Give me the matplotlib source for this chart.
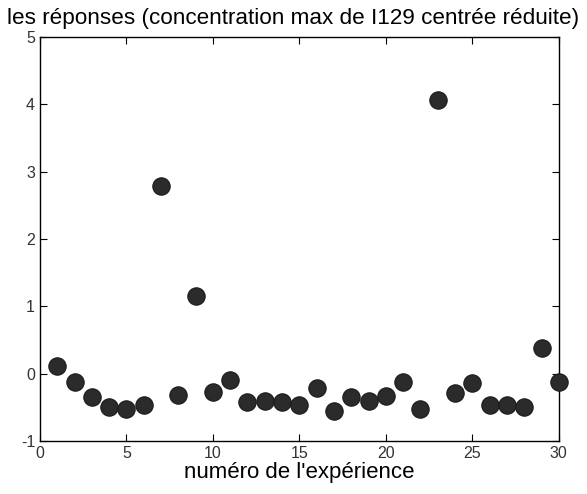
import matplotlib
matplotlib.use("Agg")
import matplotlib.pyplot as plt

experiences = list(range(1, 31))
reponses = [0.12, -0.12, -0.34, -0.50, -0.53, -0.46, 2.79, -0.31, 1.15, -0.27,
            -0.09, -0.42, -0.40, -0.42, -0.46, -0.21, -0.55, -0.34, -0.40, -0.33,
            -0.12, -0.52, 4.07, -0.29, -0.14, -0.46, -0.46, -0.50, 0.39, -0.12]
xticks = [0, 5, 10, 15, 20, 25, 30]
yticks = [-1, 0, 1, 2, 3, 4, 5]

plt.rcParams['font.family'] = ['Liberation Sans', 'DejaVu Sans']
plt.rcParams['axes.unicode_minus'] = False

fig = plt.figure(figsize=(5.87, 4.94), dpi=100)
ax = fig.add_axes([0.068, 0.107, 0.884, 0.818])
ax.plot(experiences, reponses, linestyle='none', marker='o', markersize=12.5,
        markerfacecolor='#2b2b2b', markeredgecolor='#1a1a1a', markeredgewidth=0.8,
        clip_on=False, zorder=5)
ax.set_xlim(0, 30)
ax.set_ylim(-1, 5)
ax.set_xticks(xticks)
ax.set_yticks(yticks)
ax.tick_params(direction='in', top=True, right=True, length=5, labelsize=11.5,
               labelcolor='#333333', width=0.8)
for s in ax.spines.values():
    s.set_linewidth(1.0)
fig.text(0.5, 0.952, "les réponses (concentration max de I129 centrée réduite)",
         fontsize=16.2, ha='center', va='baseline')
ax.set_xlabel("numéro de l'expérience", fontsize=16, labelpad=1)
fig.savefig("out.png", dpi=100)
